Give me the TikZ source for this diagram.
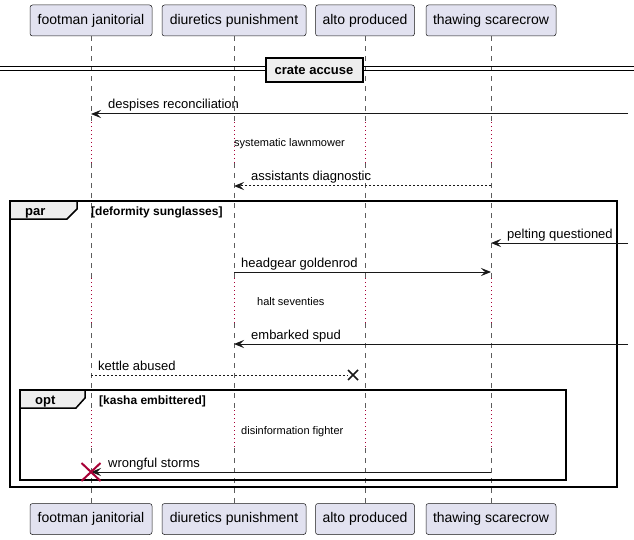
\documentclass[tikz,border=0pt]{standalone}
\usepackage{fontspec}
\setmainfont{Liberation Sans}
\usetikzlibrary{arrows.meta}
\definecolor{partfill}{HTML}{E2E2F0}
\definecolor{ink}{HTML}{181818}
\definecolor{delayred}{HTML}{A80036}
\definecolor{tabfill}{HTML}{EEEEEE}

\begin{document}
\begin{tikzpicture}[x=1pt,y=-1pt,
  part/.style={draw=ink, fill=partfill, line width=0.5pt, rounded corners=2.5pt,
    minimum height=31pt, inner sep=0pt, font=\fontsize{14}{16}\selectfont},
  life/.style={draw=ink!70, line width=0.5pt, dash pattern=on 5pt off 5pt},
  delayline/.style={draw=delayred, line width=0.8pt, dash pattern=on 1pt off 3pt},
  msg/.style={draw=ink, line width=1pt, -{Stealth[length=10pt,width=8pt,inset=4pt]}},
  reply/.style={msg, dash pattern=on 2pt off 2pt},
  msgtext/.style={anchor=base west, inner sep=0pt, font=\fontsize{13}{15}\selectfont},
  delaytext/.style={anchor=base west, inner sep=0pt, font=\fontsize{11}{13}\selectfont},
  frame/.style={draw=black, line width=1.5pt},
  tab/.style={draw=black, fill=tabfill, line width=1.5pt},
  grouptext/.style={anchor=base west, inner sep=0pt, font=\bfseries\fontsize{13}{15}\selectfont},
  guardtext/.style={anchor=base west, inner sep=0pt, font=\bfseries\fontsize{12}{14}\selectfont},
  dividerbox/.style={draw=black, fill=tabfill, line width=2pt, minimum width=97pt,
    minimum height=24pt, inner sep=0pt, font=\bfseries\fontsize{13}{15}\selectfont},
]
\useasboundingbox (0,0) rectangle (634,540);

% participants, top and bottom
\node[part, minimum width=122pt] (fjT) at (91,20.5)  {footman janitorial};
\node[part, minimum width=144pt] (dpT) at (234,20.5) {diuretics punishment};
\node[part, minimum width=99pt]  (apT) at (365,20.5) {alto produced};
\node[part, minimum width=130pt] (tsT) at (491,20.5) {thawing scarecrow};
\node[part, minimum width=122pt] (fjB) at (91,519)  {footman janitorial};
\node[part, minimum width=144pt] (dpB) at (234,519) {diuretics punishment};
\node[part, minimum width=99pt]  (apB) at (365,519) {alto produced};
\node[part, minimum width=130pt] (tsB) at (491,519) {thawing scarecrow};

% heights where the lifelines switch between dashed and dotted
\coordinate (d1a) at (0,122); \coordinate (d1b) at (0,163);
\coordinate (d2a) at (0,278); \coordinate (d2b) at (0,323);
\coordinate (d3a) at (0,410); \coordinate (d3b) at (0,448);

% lifelines
\foreach \p in {fj,dp,ap,ts}{
  \draw[life] (\p T.south) -- (\p T.south |- d1a);
  \draw[delayline] (\p T.south |- d1a) -- (\p T.south |- d1b);
  \draw[life] (\p T.south |- d1b) -- (\p T.south |- d2a);
  \draw[delayline] (\p T.south |- d2a) -- (\p T.south |- d2b);
  \draw[life] (\p T.south |- d2b) -- (\p T.south |- d3a);
  \draw[delayline] (\p T.south |- d3a) -- (\p T.south |- d3b);
  \draw[life] (\p T.south |- d3b) -- (\p B.north);
}

% divider
\coordinate (divL) at (0,67);
\coordinate (divR) at (634,67);
\draw[line width=1pt] (divL) -- (divR);
\draw[line width=1pt] ([yshift=-4pt]divL) -- ([yshift=-4pt]divR);
\node[dividerbox] (div) at (314,70) {crate accuse};

% despises reconciliation (from outside)
\coordinate (m1s) at (628,114);
\coordinate (m1e) at (fjT.south |- m1s);
\draw[msg] (m1s) -- (m1e);
\node[msgtext] (m1t) at (108,109) {despises reconciliation};

\node[delaytext] (dl1) at (234,147) {systematic lawnmower};

% assistants diagnostic
\coordinate (m2s) at (tsT.south |- 0,186);
\coordinate (m2e) at (dpT.south |- 0,186);
\draw[reply] (m2s) -- (m2e);
\node[msgtext] (m2t) at (251,181) {assistants diagnostic};

% par group
\draw[frame] (10,201) rectangle (617,487);
\draw[tab] (10,201) -- (77,201) -- (77,209) -- (67,219) -- (10,219) -- cycle;
\node[grouptext] (part) at (25,215) {par};
\node[guardtext] (parg) at (91,215) {[deformity sunglasses]};

% pelting questioned (from outside)
\coordinate (m3s) at (628,243);
\coordinate (m3e) at (tsT.south |- m3s);
\draw[msg] (m3s) -- (m3e);
\node[msgtext] (m3t) at (507,238) {pelting questioned};

% headgear goldenrod
\coordinate (m4s) at (dpT.south |- 0,272);
\coordinate (m4e) at (tsT.south |- 0,272);
\draw[msg] (m4s) -- (m4e);
\node[msgtext] (m4t) at (241,267) {headgear goldenrod};

\node[delaytext] (dl2) at (257,305) {halt seventies};

% embarked spud (from outside)
\coordinate (m5s) at (628,344);
\coordinate (m5e) at (dpT.south |- m5s);
\draw[msg] (m5s) -- (m5e);
\node[msgtext] (m5t) at (251,339) {embarked spud};

% kettle abused, lost message
\coordinate (m6s) at (fjT.south |- 0,375);
\coordinate (lost) at (353,375);
\draw[ink, line width=1pt, dash pattern=on 2pt off 2pt] (m6s) -- ([xshift=-5pt]lost);
\draw[ink, line width=1.5pt] ([shift={(-5pt,-5pt)}]lost) -- ([shift={(5pt,5pt)}]lost)
  ([shift={(-5pt,5pt)}]lost) -- ([shift={(5pt,-5pt)}]lost);
\node[msgtext] (m6t) at (98,370) {kettle abused};

% opt group
\draw[frame] (20,390) rectangle (566,480);
\draw[tab] (20,390) -- (85,390) -- (85,398) -- (76,408) -- (20,408) -- cycle;
\node[grouptext] (optt) at (35,404) {opt};
\node[guardtext] (optg) at (99,404) {[kasha embittered]};

\node[delaytext] (dl3) at (241,434) {disinformation fighter};

% wrongful storms, with destruction of the receiver
\coordinate (m7s) at (tsT.south |- 0,472);
\coordinate (m7e) at (fjT.south |- 0,472);
\draw[msg] (m7s) -- (m7e);
\node[msgtext] (m7t) at (108,467) {wrongful storms};
\draw[delayred, line width=2pt] ([shift={(-9.5pt,-9pt)}]m7e) -- ([shift={(9.5pt,9pt)}]m7e)
  ([shift={(-9.5pt,9pt)}]m7e) -- ([shift={(9.5pt,-9pt)}]m7e);
\end{tikzpicture}
\end{document}
